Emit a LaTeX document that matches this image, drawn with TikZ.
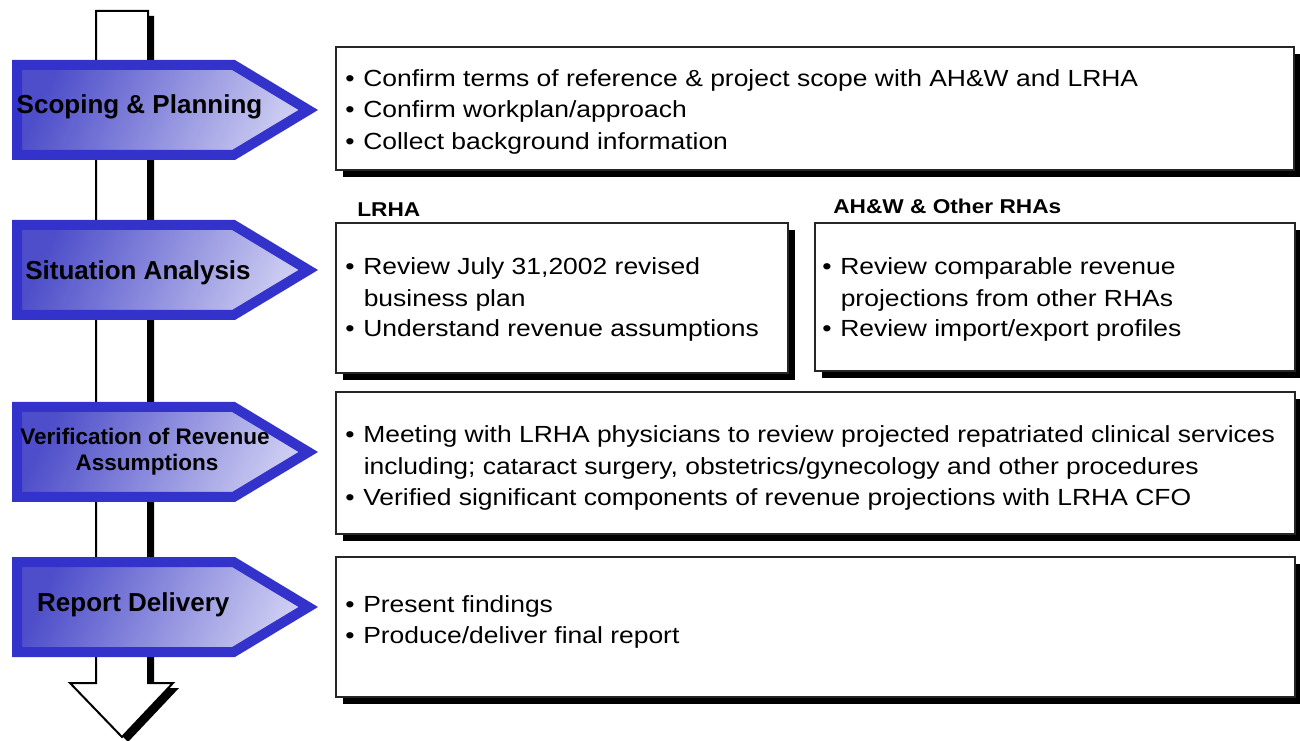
\documentclass[tikz,border=0pt]{standalone}
\usepackage{fontspec}
\setmainfont{Liberation Sans}
\newfontfamily\widesans{Liberation Sans}[FakeStretch=1.134]
\usetikzlibrary{shadows,fit}
\definecolor{stageborder}{RGB}{51,51,204}
\definecolor{stagedark}{RGB}{78,78,202}
\definecolor{stagelight}{RGB}{204,204,242}
\newcommand\bitem{\makebox[13.5pt][l]{\textbullet}}
% one stage marker: a pentagon whose top edge lies at y = #1
\newcommand\stagemarker[1]{%
  \draw[stage] (17,#1+5) -- (233.6,#1+5) -- (308.3,#1+50) -- (233.6,#1+95) -- (17,#1+95) -- cycle;}
\begin{document}
\begin{tikzpicture}[x=0.75pt,y=-0.75pt,
  stage/.style={draw=stageborder, line width=7.5pt, line join=miter,
    shade, shading=axis, left color=stagedark, right color=stagelight, shading angle=65},
  stagelabel/.style={font=\fontsize{19.5}{22}\selectfont\bfseries, anchor=base, inner sep=0pt},
  panel/.style={draw=black!85, line width=1.2pt, fill=white, inner sep=0pt,
    drop shadow={shadow xshift=5.25pt, shadow yshift=-5.25pt, fill=black, opacity=1}},
  body/.style={font=\widesans\fontsize{17.5}{21}\selectfont, anchor=base west, inner sep=0pt},
  head/.style={font=\widesans\fontsize{15}{18}\selectfont\bfseries, anchor=base west, inner sep=0pt},
  shaft/.style={draw=black, line width=1.5pt, fill=white, line join=miter}]
\useasboundingbox (0,0) rectangle (1300,741);

% timeline arrow with its drop shadow
\fill[black] (102,16) -- (154,16) -- (154,688) -- (179,688) -- (128,742) -- (76,688) -- (102,688) -- cycle;
\draw[shaft] (96,11) -- (148,11) -- (148,683) -- (173,683) -- (122,737) -- (70,683) -- (96,683) -- cycle;

% stage markers
\stagemarker{60}
\stagemarker{220}
\stagemarker{402}
\stagemarker{557}
\node[stagelabel] (s1) at (139.5,113.3) {Scoping \& Planning};
\node[stagelabel] (s2) at (138,279.3) {Situation Analysis};
\node[stagelabel, font=\fontsize{16.9}{20}\selectfont\bfseries] (s3a) at (145,444.3) {Verification of Revenue};
\node[stagelabel, font=\fontsize{16.9}{20}\selectfont\bfseries] (s3b) at (147,470.7) {Assumptions};
\node[stagelabel] (s4) at (133.3,611.7) {Report Delivery};

% activity panels
\node[panel, fit={(336,47) (1294,170)}] (p1) {};
\node[panel, fit={(336,223) (788,373)}] (p2) {};
\node[panel, fit={(815,223) (1295,371)}] (p3) {};
\node[panel, fit={(336,392) (1295,534)}] (p4) {};
\node[panel, fit={(336,557) (1295,697)}] (p5) {};

% panel headings
\node[head] (h2) at (357,216.7) {LRHA};
\node[head] (h3) at (833,214) {AH\&W \& Other RHAs};

% scoping & planning
\node[body] (t1a) at (345,86.5) {\bitem Confirm terms of reference \& project scope with AH\&W and LRHA};
\node[body] (t1b) at (345,118) {\bitem Confirm workplan/approach};
\node[body] (t1c) at (345,149.5) {\bitem Collect background information};

% situation analysis: LRHA
\node[body] (t2a) at (345,275) {\bitem Review July 31,2002 revised};
\node[body] (t2b) at (363.5,306.5) {business plan};
\node[body] (t2c) at (345,337) {\bitem Understand revenue assumptions};

% situation analysis: AH&W and other RHAs
\node[body] (t3a) at (822,275) {\bitem Review comparable revenue};
\node[body] (t3b) at (840.5,306.5) {projections from other RHAs};
\node[body] (t3c) at (822,337) {\bitem Review import/export profiles};

% verification of revenue assumptions
\node[body] (t4a) at (345,443) {\bitem Meeting with LRHA physicians to review projected repatriated clinical services};
\node[body] (t4b) at (363.5,474.5) {including; cataract surgery, obstetrics/gynecology and other procedures};
\node[body] (t4c) at (345,506) {\bitem Verified significant components of revenue projections with LRHA CFO};

% report delivery
\node[body] (t5a) at (345,612) {\bitem Present findings};
\node[body] (t5b) at (345,643) {\bitem Produce/deliver final report};
\end{tikzpicture}
\end{document}
